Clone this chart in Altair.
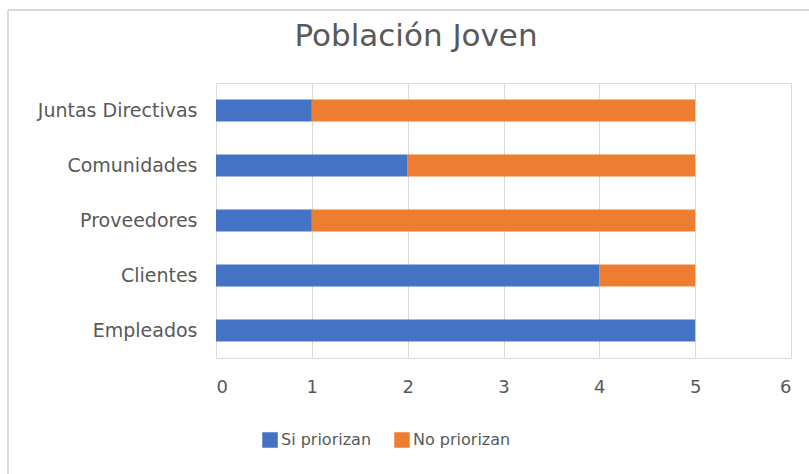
import altair as alt
import pandas as pd

categories = ["Juntas Directivas", "Comunidades", "Proveedores", "Clientes", "Empleados"]
si_priorizan = [1, 2, 1, 4, 5]
no_priorizan = [4, 3, 4, 1, 0]
series = ["Si priorizan", "No priorizan"]
colors = ["#4472C4", "#ED7D31"]
x_ticks = [0, 1, 2, 3, 4, 5, 6]
title_text = "Población Joven"

rows = []
for c, s, n in zip(categories, si_priorizan, no_priorizan):
    rows.append({"cat": c, "serie": series[0], "val": s, "ord": 0})
    rows.append({"cat": c, "serie": series[1], "val": n, "ord": 1})
df = pd.DataFrame(rows)

FONT = "DejaVu Sans"
GRAY = "#595959"

bars = alt.Chart(df).mark_bar(size=22).encode(
    y=alt.Y("cat:N", sort=categories, title=None,
            axis=alt.Axis(ticks=False, domain=False, labelFontSize=19, labelColor=GRAY,
                          labelFont=FONT, labelPadding=19, labelLimit=300)),
    x=alt.X("val:Q", stack="zero", title=None,
            scale=alt.Scale(domain=[0, 6], nice=False),
            axis=alt.Axis(values=x_ticks, ticks=False, domain=False, labelFontSize=18,
                          labelColor=GRAY, labelFont=FONT, labelPadding=20,
                          grid=True, gridWidth=1,
                          gridColor=alt.condition(alt.datum.value == 0,
                                                  alt.value("transparent"),
                                                  alt.value("#D9D9D9")))),
    color=alt.Color("serie:N", sort=series, title=None,
                    scale=alt.Scale(domain=series, range=colors),
                    legend=alt.Legend(orient="none", legendX=46, legendY=349,
                                      direction="horizontal", symbolType="square",
                                      symbolSize=240, symbolStrokeWidth=0,
                                      labelFontSize=16, labelColor=GRAY, labelFont=FONT,
                                      columnPadding=22, labelOffset=3)),
    order=alt.Order("ord:Q"),
)

title_mark = alt.Chart(pd.DataFrame({"t": [title_text]})).mark_text(
    font=FONT, fontSize=31, color=GRAY, align="center", baseline="middle"
).encode(text="t:N", x=alt.value(200), y=alt.value(-46))

border_left = alt.Chart(df).mark_rule(color="#D9D9D9", strokeWidth=1).encode(
    x=alt.value(-208), y=alt.value(-73), y2=alt.value(400))
border_top = alt.Chart(df).mark_rule(color="#D9D9D9", strokeWidth=1).encode(
    x=alt.value(-208), x2=alt.value(600), y=alt.value(-73))

chart = alt.layer(border_left, border_top, bars, title_mark).properties(
    width=575, height=275,
    autosize=alt.AutoSizeParams(type="none"),
    padding={"left": 216, "top": 83, "right": 18, "bottom": 116},
).configure_view(stroke=None).configure(background="white")

chart.save("out.html", embed_options={"renderer": "svg", "actions": False})
